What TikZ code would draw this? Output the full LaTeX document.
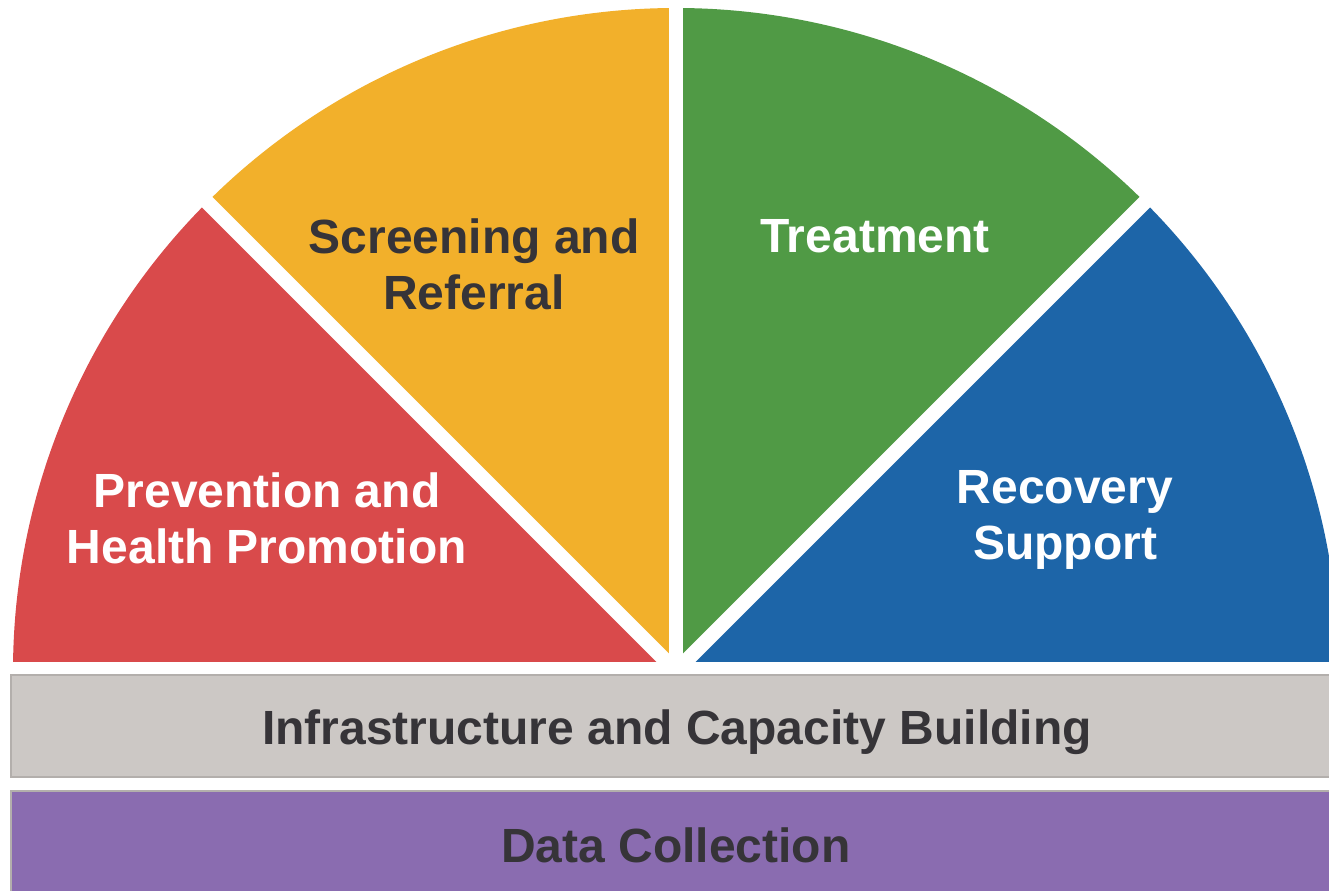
\documentclass[tikz,border=0pt]{standalone}
\usepackage{fontspec}
\setmainfont{Liberation Sans}

\definecolor{prevred}{HTML}{D94A4B}
\definecolor{screenyellow}{HTML}{F2B02B}
\definecolor{treatgreen}{HTML}{509A45}
\definecolor{recblue}{HTML}{1D65A8}
\definecolor{infragray}{HTML}{CCC8C5}
\definecolor{infraedge}{HTML}{B3AFAC}
\definecolor{datapurple}{HTML}{8A6CB0}
\definecolor{darktext}{HTML}{363438}

\tikzset{
  wedgetext/.style={font=\fontsize{24}{28}\selectfont\bfseries, align=center, anchor=base},
  gapline/.style={white, line width=7.4pt}
}

\begin{document}
\begin{tikzpicture}[x=0.5pt, y=0.5pt]
  \clip (0,0) rectangle (1329,890);
  \fill[white] (0,0) rectangle (1329,890);

  % half disc
  \coordinate (hub) at (676,219);
  \begin{scope}
    \clip (0,228) rectangle (1329,890);
    \foreach \ang/\col in {0/recblue, 45/treatgreen, 90/screenyellow, 135/prevred} {
      \fill[\col] (hub) -- +(\ang:663) arc [start angle=\ang, end angle=\ang+45, radius=663] -- cycle;
    }
  \end{scope}

  % white gaps
  \foreach \ang in {45, 90, 135} {
    \draw[gapline] (hub) -- +(\ang:700);
  }

  % bars
  \draw[fill=infragray, draw=infraedge, line width=0.6pt] (11,113) rectangle (1340,215);
  \draw[fill=datapurple, draw=infraedge, line width=0.6pt] (11,-10) rectangle (1340,99);

  % labels (base = last line)
  \node[wedgetext, text=white] (prevention) at (267,326) {Prevention and\\Health Promotion};
  \node[wedgetext, text=darktext] (screening) at (474,580) {Screening and\\Referral};
  \node[wedgetext, text=white] (treatment) at (875,637) {Treatment};
  \node[wedgetext, text=white] (recovery) at (1065,330) {Recovery\\Support};
  \node[wedgetext, text=darktext] (infra) at (677,146) {Infrastructure and Capacity Building};
  \node[wedgetext, text=darktext] (data) at (676,28) {Data Collection};
\end{tikzpicture}
\end{document}
